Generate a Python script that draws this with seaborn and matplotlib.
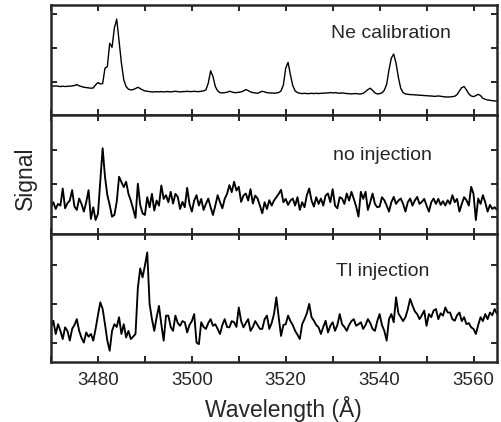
import numpy as np
import pandas as pd
import matplotlib
matplotlib.use("Agg")
import matplotlib.pyplot as plt
from matplotlib.ticker import MultipleLocator, NullFormatter
import seaborn as sns

# wavelength grid (0.5 A steps, 3470 -> 3565)
wavelength = np.arange(3470.0, 3565.01, 0.5)

# Ne calibration lamp spectrum (arb. units)
ne_signal = [
    0.87, 0.86, 0.87, 0.86, 0.85, 0.86, 0.85, 0.86, 0.86, 0.87,
    0.88, 0.91, 0.87, 0.85, 0.83, 0.82, 0.81, 0.80, 0.81, 0.90,
    0.97, 0.93, 0.94, 1.40, 1.44, 2.14, 2.02, 2.60, 2.86, 2.20,
    1.55, 1.05, 0.85, 0.77, 0.75, 0.76, 0.79, 0.83, 0.79, 0.75,
    0.72, 0.71, 0.70, 0.69, 0.69, 0.70, 0.69, 0.70, 0.69, 0.70,
    0.70, 0.69, 0.70, 0.71, 0.70, 0.69, 0.70, 0.70, 0.71, 0.70,
    0.70, 0.71, 0.70, 0.70, 0.71, 0.72, 0.75, 0.95, 1.32, 1.15,
    0.85, 0.72, 0.67, 0.66, 0.67, 0.68, 0.71, 0.69, 0.67, 0.67,
    0.68, 0.69, 0.72, 0.76, 0.73, 0.69, 0.67, 0.66, 0.65, 0.68,
    0.71, 0.69, 0.67, 0.66, 0.66, 0.65, 0.66, 0.67, 0.72, 0.90,
    1.40, 1.57, 1.20, 0.88, 0.72, 0.67, 0.65, 0.64, 0.65, 0.64,
    0.64, 0.65, 0.64, 0.65, 0.64, 0.65, 0.65, 0.66, 0.66, 0.67,
    0.66, 0.67, 0.66, 0.65, 0.66, 0.65, 0.64, 0.64, 0.63, 0.64,
    0.64, 0.63, 0.63, 0.65, 0.70, 0.76, 0.80, 0.74, 0.66, 0.63,
    0.64, 0.66, 0.74, 0.92, 1.35, 1.70, 1.82, 1.55, 1.12, 0.80,
    0.67, 0.63, 0.62, 0.61, 0.61, 0.60, 0.60, 0.59, 0.59, 0.58,
    0.58, 0.57, 0.57, 0.56, 0.56, 0.57, 0.56, 0.55, 0.54, 0.54,
    0.54, 0.55, 0.56, 0.61, 0.72, 0.82, 0.85, 0.75, 0.63, 0.57,
    0.55, 0.58, 0.62, 0.58, 0.50, 0.47, 0.45, 0.44, 0.43, 0.42,
    0.42,
]

# no injection
noinj_signal = [
    0.80, 0.95, 0.75, 0.90, 0.85, 1.36, 0.77, 0.92, 1.00, 1.31,
    0.82, 0.72, 1.06, 0.90, 0.67, 0.95, 1.31, 0.45, 0.80, 0.42,
    0.60, 1.56, 2.56, 1.71, 1.16, 0.87, 0.52, 0.57, 0.96, 1.71,
    1.55, 1.40, 1.56, 1.20, 1.00, 0.75, 0.48, 1.50, 0.87, 0.62,
    0.57, 1.10, 0.80, 1.20, 0.70, 1.00, 0.85, 1.45, 1.05, 1.16,
    0.95, 1.26, 0.91, 1.20, 1.11, 0.75, 0.96, 0.80, 1.38, 0.90,
    0.67, 1.00, 1.16, 0.85, 1.05, 0.72, 0.90, 1.06, 0.80, 0.57,
    0.85, 1.16, 0.95, 0.77, 1.05, 1.20, 1.46, 1.25, 1.56, 1.30,
    1.41, 0.96, 1.15, 1.21, 1.00, 1.34, 0.91, 1.15, 1.06, 0.85,
    0.62, 0.95, 0.75, 1.01, 0.85, 1.00, 1.10, 1.20, 1.32, 0.95,
    1.05, 0.87, 1.00, 1.06, 0.85, 1.10, 0.72, 0.95, 0.80, 1.16,
    1.36, 1.00, 0.82, 1.10, 0.90, 1.06, 0.85, 1.15, 1.21, 0.95,
    1.34, 0.85, 0.77, 1.10, 1.06, 0.90, 1.21, 1.00, 1.26, 1.05,
    0.82, 0.52, 1.26, 1.05, 1.26, 0.72, 0.95, 1.21, 0.90, 0.80,
    0.82, 1.10, 1.01, 0.85, 0.67, 0.95, 1.11, 0.90, 1.00, 1.06,
    0.90, 0.67, 0.95, 1.06, 0.85, 1.00, 1.11, 0.90, 0.96, 1.05,
    0.85, 0.67, 0.95, 1.06, 0.90, 1.05, 0.87, 0.98, 0.85, 1.01,
    0.90, 1.16, 0.95, 1.05, 0.67, 0.90, 1.10, 1.01, 0.85, 1.41,
    1.20, 0.42, 1.06, 0.90, 1.16, 0.95, 0.67, 0.87, 0.75, 0.80,
    0.72,
]

# Tl injection
tl_signal = [
    0.89, 1.06, 0.72, 0.97, 0.80, 0.59, 0.89, 0.80, 0.55, 0.85,
    0.95, 1.10, 0.80, 0.62, 0.50, 0.76, 0.65, 0.72, 0.55, 0.85,
    1.20, 1.53, 1.36, 0.97, 0.55, 0.29, 0.80, 0.97, 0.90, 1.15,
    0.72, 0.97, 0.63, 0.80, 0.59, 0.65, 0.72, 1.90, 2.40, 2.17,
    2.47, 2.81, 1.49, 1.10, 0.80, 1.15, 1.44, 0.97, 0.55, 1.19,
    1.19, 0.90, 0.80, 1.19, 1.00, 0.93, 1.05, 1.02, 0.76, 0.95,
    1.05, 1.23, 0.50, 0.46, 1.02, 0.90, 0.85, 1.00, 1.10, 0.93,
    0.97, 0.85, 0.72, 0.95, 1.10, 0.90, 0.89, 1.05, 1.02, 0.90,
    1.40, 1.05, 0.89, 1.00, 1.10, 0.80, 0.90, 1.05, 0.95, 0.85,
    0.85, 1.10, 1.19, 0.85, 1.00, 1.23, 1.66, 1.15, 0.67, 0.95,
    0.97, 1.19, 1.05, 0.95, 0.80, 0.70, 0.59, 0.97, 1.10, 1.25,
    1.49, 1.15, 1.06, 0.95, 0.89, 0.72, 0.90, 1.06, 0.76, 0.93,
    1.02, 0.80, 0.95, 1.23, 0.97, 0.90, 0.80, 0.95, 1.05, 1.10,
    0.93, 0.97, 1.02, 0.85, 0.95, 1.10, 1.00, 0.85, 0.80, 1.05,
    1.23, 0.95, 0.80, 0.55, 1.10, 1.23, 1.02, 1.66, 1.25, 1.15,
    1.05, 1.15, 1.35, 1.62, 1.45, 1.30, 1.23, 1.10, 1.20, 1.32,
    0.93, 1.23, 1.15, 1.32, 1.36, 1.10, 1.25, 1.19, 1.40, 1.27,
    1.27, 1.10, 1.06, 1.20, 1.27, 1.05, 1.15, 0.97, 1.00, 0.89,
    0.85, 0.72, 0.95, 1.15, 1.05, 1.23, 1.10, 1.27, 1.20, 1.36,
    1.23,
]

panel_labels = ["Ne calibration", "no injection", "Tl injection"]

sns.set_style("ticks")
plt.rcParams['font.family'] = ['Liberation Sans', 'DejaVu Sans']

fig = plt.figure(figsize=(5.02, 4.22), dpi=100)
gs = fig.add_gridspec(3, 1, height_ratios=[110, 119, 128], hspace=0,
                      left=0.1016, right=0.990, top=0.988, bottom=0.142)
axes = [fig.add_subplot(gs[i]) for i in range(3)]

series = [ne_signal, noinj_signal, tl_signal]
widths = [1.0, 1.35, 1.35]
ylims = [(0, 3.28), (0, 3.55), (0, 3.28)]
yticks = [[1, 2, 3], [0.5, 1.5, 2.5], [0.5, 1.5, 2.5]]
label_pos = [(0.762, 0.745), (0.744, 0.664), (0.744, 0.711)]

for i, ax in enumerate(axes):
    df = pd.DataFrame({"wavelength": wavelength, "signal": series[i]})
    sns.lineplot(data=df, x="wavelength", y="signal", ax=ax, color="black",
                 linewidth=widths[i], estimator=None)
    ax.set_xlim(3470, 3565)
    ax.set_ylim(*ylims[i])
    ax.set_yticks(yticks[i])
    ax.set_yticklabels([])
    ax.xaxis.set_major_locator(MultipleLocator(20))
    ax.xaxis.set_minor_locator(MultipleLocator(10))
    ax.tick_params(axis='both', which='both', direction='in', top=True, right=True,
                   length=4, width=1.4, labelsize=13.5, pad=7)
    for sp in ax.spines.values():
        sp.set_linewidth(1.8)
    ax.set_ylabel("")
    ax.set_xlabel("")
    if i < 2:
        ax.xaxis.set_major_formatter(NullFormatter())
    ax.text(label_pos[i][0], label_pos[i][1], panel_labels[i], transform=ax.transAxes,
            ha='center', va='center', fontsize=14)

axes[2].set_xlabel("Wavelength (Å)", fontsize=16.5, labelpad=5, x=0.522)
fig.text(0.05, 0.578, "Signal", rotation=90, ha='center', va='center', fontsize=16.5)

plt.savefig("out.png", dpi=100)
plt.close()
